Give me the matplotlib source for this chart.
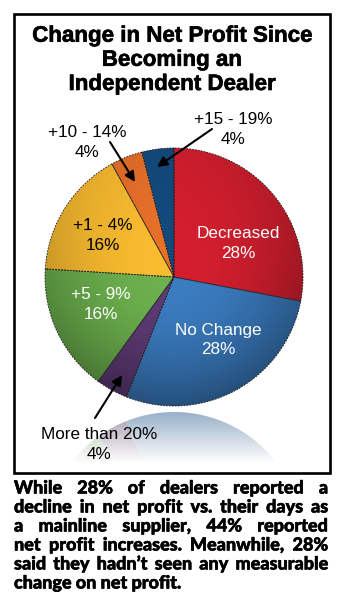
import numpy as np
import matplotlib
matplotlib.use("Agg")
import matplotlib.pyplot as plt
import matplotlib.patheffects as pe
from matplotlib.colors import to_rgb
from matplotlib.patches import Rectangle

W, H, DPI = 344, 616, 100

title_lines = ["Change in Net Profit Since", "Becoming an", "Independent Dealer"]
categories = ["Decreased", "No Change", "More than 20%", "+5 - 9%",
              "+1 - 4%", "+10 - 14%", "+15 - 19%"]
shares = [28, 28, 4, 16, 16, 4, 4]
colors = ["#d51f2f", "#3b7dc1", "#5f3b76", "#6db24e",
          "#fbbd30", "#e9712a", "#134b7e"]
caption_lines = [
    "While 28% of dealers reported a",
    "decline in net profit vs. their days as",
    "a mainline supplier, 44% reported",
    "net profit increases. Meanwhile, 28%",
    "said they hadn\u2019t seen any measurable",
    "change on net profit.",
]

fig = plt.figure(figsize=(W / DPI, H / DPI), dpi=DPI)
fig.patch.set_facecolor("white")
ax = fig.add_axes([0, 0, 1, 1])


def Y(py):
    """Convert a top-down pixel row to the axes' upward y coordinate."""
    return H - py


cx, cy, R = 174, 277, 129
mirror_row = 409

# main pie
wedges, _ = ax.pie(shares, colors=colors, startangle=90, counterclock=False,
                   center=(cx, Y(cy)), radius=R, frame=True,
                   wedgeprops=dict(linewidth=0))

# soft lighting: darker toward the rim, strongest along the bottom
n = 400
xs = np.linspace(cx - R, cx + R, n)
ys = np.linspace(Y(cy) + R, Y(cy) - R, n)
gx, gy = np.meshgrid(xs, ys)
dx = (gx - cx) / R
dd = -(gy - Y(cy)) / R
r = np.sqrt(dx ** 2 + dd ** 2)
w = 0.5 + 0.5 * dd / np.maximum(r, 1e-6)
shade = np.clip(1 - r ** 2 * (0.06 + 0.30 * w) - 0.05 * r * np.clip(dx, 0, None), 0, 1)
extent = (cx - R, cx + R, Y(cy) - R, Y(cy) + R)

for wd, c in zip(wedges, colors):
    base = np.array(to_rgb(c))
    img = np.clip(base[None, None, :] * shade[..., None], 0, 1)
    im = ax.imshow(img, extent=extent, origin="upper", zorder=2,
                   interpolation="bilinear")
    im.set_clip_path(wd)
    wd.set_facecolor("none")
    wd.set_edgecolor("#1a1a1a")
    wd.set_linewidth(0.6)
    wd.set_linestyle((0, (2, 1.5)))
    wd.set_zorder(3)

# mirrored reflection under the pie
ref_colors = [tuple(np.array(to_rgb(c)) * 0.72) for c in colors]
ax.pie(shares, colors=ref_colors, startangle=-90, counterclock=True,
       center=(cx, Y(2 * mirror_row - cy)), radius=R, frame=True,
       wedgeprops=dict(linewidth=0, zorder=1))

fade_rows = np.arange(mirror_row, H + 1)
alpha = np.clip(0.5 + 0.5 * (fade_rows - mirror_row) / (462 - mirror_row), 0, 1)
fade = np.ones((len(fade_rows), 1, 4))
fade[:, 0, 3] = alpha
ax.imshow(fade, extent=(0, W, Y(H), Y(mirror_row)), origin="upper",
          aspect="auto", zorder=4, interpolation="bilinear")

ax.set_xlim(0, W)
ax.set_ylim(0, H)
ax.set_aspect("auto")
ax.axis("off")

renderer = fig.canvas.get_renderer()


def text_width(s, **kw):
    t = ax.text(0, 0, s, **kw)
    bb = t.get_window_extent(renderer)
    t.remove()
    return bb.width


# slice labels: two lines each, placed by their baselines
lfont = dict(family="Liberation Sans")
lsize = 12 * 83 / text_width(categories[0], fontsize=12, **lfont)
label_spots = {  # category -> (x centre, mid row between the two lines, colour)
    "Decreased": (238, 242, "white"),
    "No Change": (218, 338.5, "white"),
    "More than 20%": (99, 443, "black"),
    "+5 - 9%": (101, 303, "white"),
    "+1 - 4%": (103, 233.5, "black"),
    "+10 - 14%": (87, 141, "black"),
    "+15 - 19%": (233, 128, "black"),
}
for cat, val in zip(categories, shares):
    x, mid, col = label_spots[cat]
    for txt, row in ((cat, mid - 4), (f"{val}%", mid + 16)):
        ax.text(x, Y(row), txt, color=col, fontsize=lsize, ha="center",
                va="baseline", zorder=6, **lfont)

arrow = dict(arrowstyle="-|>,head_length=0.6,head_width=0.3", color="black",
             lw=1.5, shrinkA=0, shrinkB=0)
for tail, head in [((212, 129), (157, 167)),
                   ((110, 142), (135, 182)),
                   ((95, 418), (122, 375))]:
    ax.annotate("", xy=(head[0], Y(head[1])), xytext=(tail[0], Y(tail[1])),
                arrowprops=arrow, zorder=6)

# title
tfont = dict(family="Liberation Sans", weight="bold")
tsize = 14 * 281 / text_width(title_lines[0], fontsize=14, **tfont)
heavy = [pe.withStroke(linewidth=0.45, foreground="black")]
for line, base in zip(title_lines, [41.7, 65.8, 90.0]):
    ax.text(171.5, Y(base), line, ha="center", va="baseline", fontsize=tsize,
            zorder=6, path_effects=heavy, **tfont)

# frame
ax.add_patch(Rectangle((13.5, Y(473)), 316.5, 473 - 13.5, fill=False,
                       edgecolor="black", lw=1.9, zorder=7))

# justified caption
cfont = dict(family="Lato", weight="black")
csize = 10 * 167 / text_width(caption_lines[-1], fontsize=10, **cfont)
cheavy = [pe.withStroke(linewidth=0.4, foreground="black")]
left, right = 14, 328
space_w = text_width("a a", fontsize=csize, **cfont) - text_width("aa", fontsize=csize, **cfont)
for i, line in enumerate(caption_lines):
    base = Y(493.5 + i * 19)
    words = line.split(" ")
    widths = [text_width(wd_, fontsize=csize, **cfont) for wd_ in words]
    if i < len(caption_lines) - 1:
        gap = (right - left - sum(widths)) / (len(words) - 1)
    else:
        gap = space_w
    x = left
    for wd_, ww in zip(words, widths):
        ax.text(x, base, wd_, ha="left", va="baseline", fontsize=csize,
                zorder=6, path_effects=cheavy, **cfont)
        x += ww + gap

fig.savefig("out.png", dpi=DPI, facecolor="white")
